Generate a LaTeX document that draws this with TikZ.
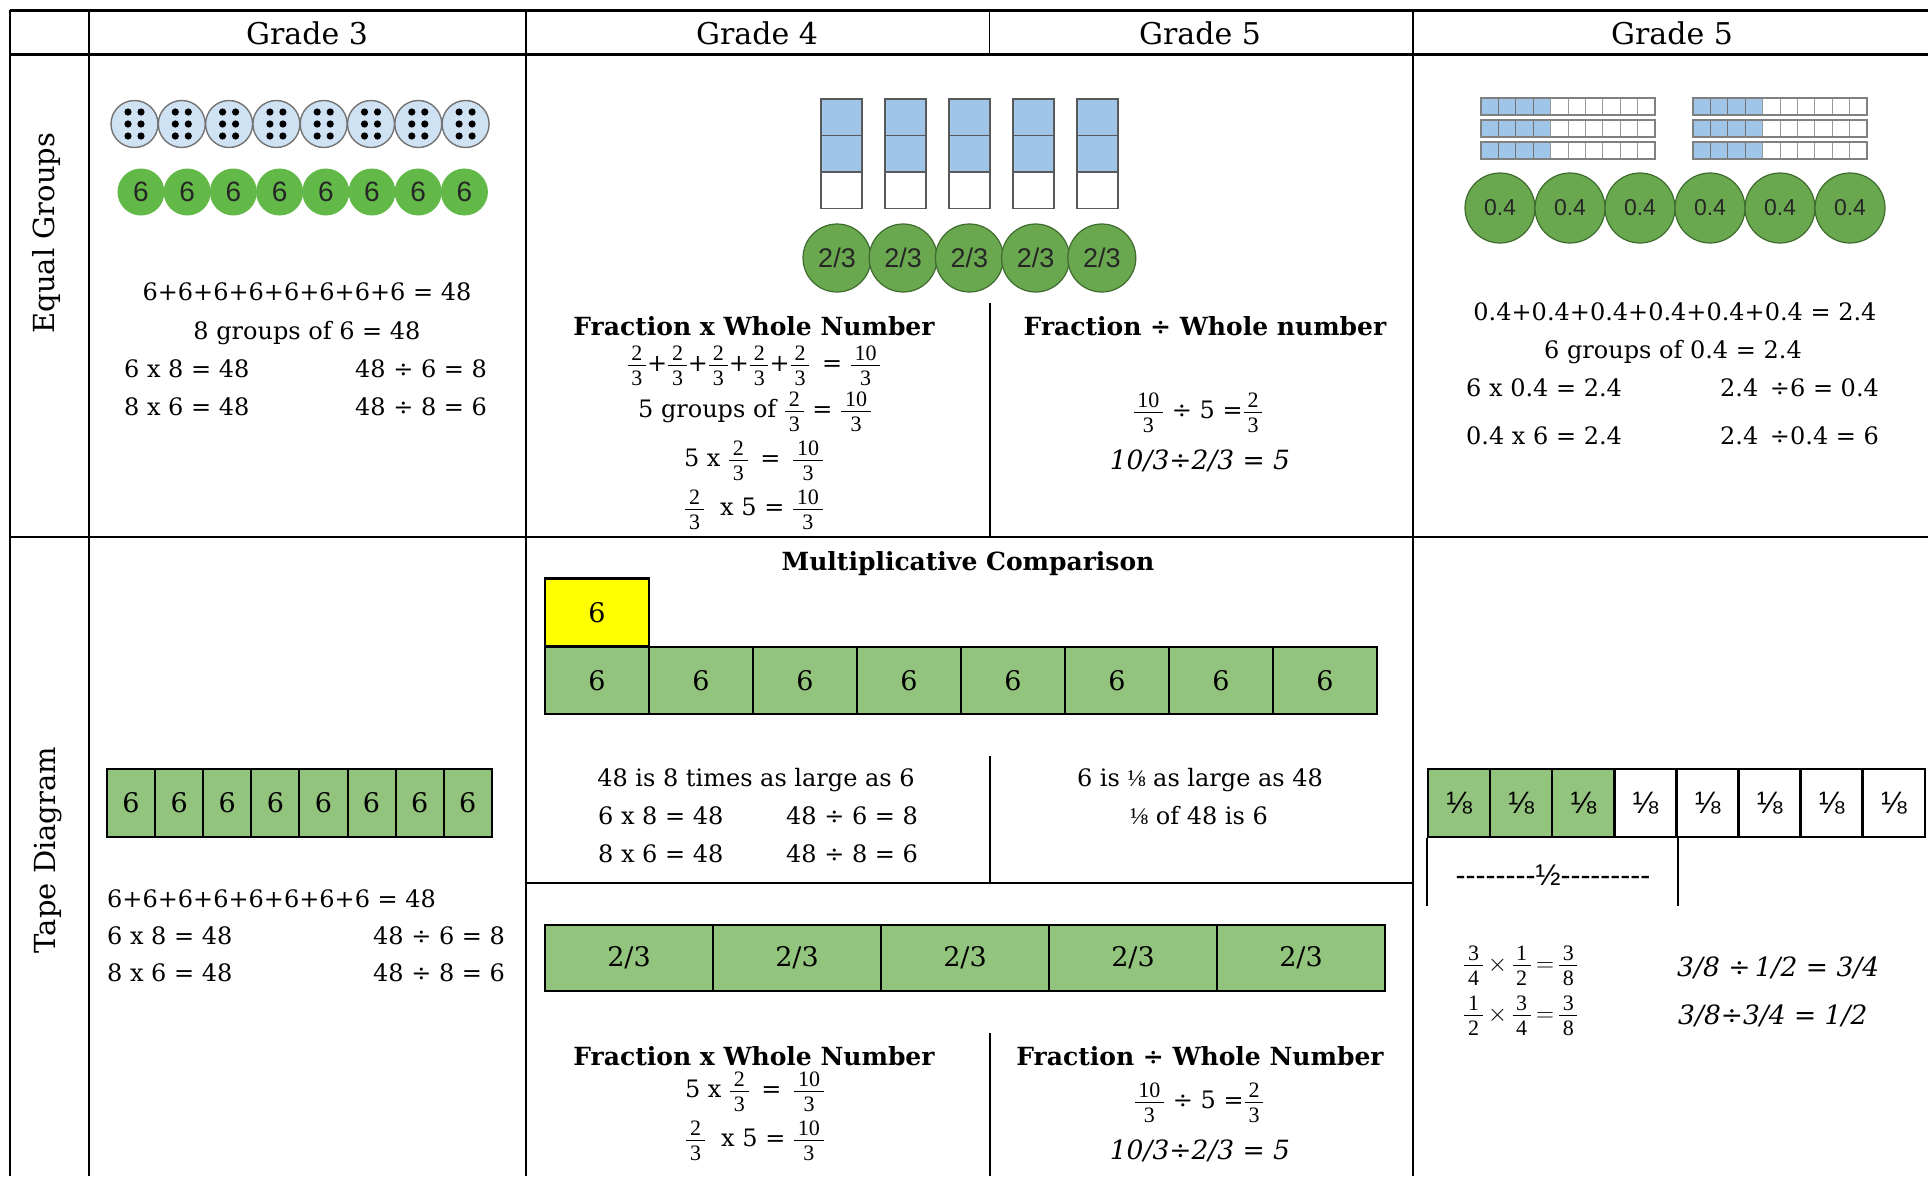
\documentclass[tikz,border=0pt]{standalone}
\usepackage{amsmath}
\usepackage{fontspec}
\setmainfont{DejaVu Serif}
\newfontfamily\sansf{Liberation Sans}
\newfontfamily\lserif{Liberation Serif}
\newfontfamily\dashfont[Ligatures=TeXOff]{Liberation Sans}
\usetikzlibrary{shapes.geometric}
\definecolor{tapegreen}{HTML}{93C47D}
\definecolor{circgreen}{HTML}{6AA84F}
\definecolor{brightgreen}{HTML}{62B948}
\definecolor{lblue}{HTML}{9FC5E8}
\definecolor{dicefill}{HTML}{CFE2F3}
\definecolor{darkgreen}{HTML}{3E6B2E}
\definecolor{yel}{HTML}{FFFF00}
\newcommand\fr[2]{\ensuremath{\genfrac{}{}{1.5pt}{1}{\hbox{\lserif\fontsize{22}{24}\selectfont\,#1\,\rule[-2.5pt]{0pt}{2.5pt}}}{\hbox{\lserif\fontsize{22}{24}\selectfont\,#2\,\rule{0pt}{17.5pt}}}}}
\begin{document}
\begin{tikzpicture}[x=1pt,y=-1pt,
  body/.style={font=\fontsize{24}{28}\selectfont, inner sep=0pt},
  bodyb/.style={font=\fontsize{25}{29}\selectfont\bfseries, inner sep=0pt},
  ital/.style={font=\fontsize{26.5}{30}\selectfont\itshape, inner sep=0pt},
  hdr/.style={font=\fontsize{30}{34}\selectfont, inner sep=0pt},
  sidelab/.style={font=\fontsize{29}{33}\selectfont, inner sep=0pt, rotate=90},
  dice/.style={draw=black!55, line width=1.4pt, fill=dicefill, ellipse, minimum width=47, minimum height=47, inner sep=0pt},
  gcirc/.style={fill=brightgreen, ellipse, minimum width=47, minimum height=47, inner sep=0pt, font=\sansf\fontsize{28}{30}\selectfont, text=black!85},
  fcirc/.style={draw=darkgreen, line width=1.2pt, fill=circgreen, circle, minimum size=#1, inner sep=0pt, text=black!85},
  bcell/.style={draw=black!65, line width=1.5pt, minimum width=41, minimum height=36.5, inner sep=0pt},
  dcell/.style={draw=black!40, line width=1pt, minimum width=17.4, minimum height=17, inner sep=0pt},
  tcell/.style={draw=black, line width=2pt, fill=tapegreen, minimum height=68, inner sep=0pt, font=\fontsize{27}{30}\selectfont},
  gridthick/.style={line width=3pt},
  gridmid/.style={line width=2pt},
  gridthin/.style={line width=1.5pt}
]
\useasboundingbox (0,0) rectangle (1928,1176);
\fill[white] (0,0) rectangle (1928,1176);

% ---------- grid ----------
\draw[gridthick] (10,10) -- (1928,10);
\draw[gridthick] (10,54) -- (1928,54);
\draw[gridmid] (10,537) -- (1928,537);
\draw[gridmid] (10,10) -- (10,1176);
\draw[gridthin] (89,10) -- (89,1176);
\draw[gridthin] (526,10) -- (526,1176);
\draw[line width=1pt] (989,10) -- (989,54);
\draw[gridthin] (1413,10) -- (1413,1176);
\draw[gridmid] (990,303) -- (990,537);
\draw[gridthin] (990,756) -- (990,883);
\draw[gridthin] (526,883) -- (1413,883);
\draw[gridthin] (990,1033) -- (990,1176);

% ---------- headers ----------
\node[hdr] (h1) at (307,33) {Grade 3};
\node[hdr] (h2) at (757,33) {Grade 4};
\node[hdr] (h3) at (1200,33) {Grade 5};
\node[hdr] (h4) at (1672,33) {Grade 5};
\node[sidelab] (lab1) at (46,233) {Equal Groups};
\node[sidelab] (lab2) at (48,850) {Tape Diagram};

% ---------- Grade 3, equal groups ----------
\foreach \i in {0,...,7}{
  \node[dice] (d\i) at ({134.5+47.3*\i},124) {};
  \foreach \dx in {-6.5,6.5}{
    \foreach \dy in {-12,0,12}{
      \fill ({134.5+47.3*\i+\dx},{124+\dy}) circle (3.6);
    }
  }
}
\foreach \i in {0,...,7}{
  \node[gcirc] (gc\i) at ({141+46.2*\i},192) {6};
}
\node[body, anchor=base] (g3a) at (307,300) {6+6+6+6+6+6+6+6 = 48};
\node[body, anchor=base] (g3b) at (307,339) {8 groups of 6 = 48};
\node[body, anchor=base west] (g3c) at (124,377) {6 x 8 = 48};
\node[body, anchor=base west] (g3d) at (355,377) {48 ÷ 6 = 8};
\node[body, anchor=base west] (g3e) at (124,415) {8 x 6 = 48};
\node[body, anchor=base west] (g3f) at (355,415) {48 ÷ 8 = 6};

% ---------- Grade 4, equal groups ----------
\foreach \i in {0,...,4}{
  \node[bcell, fill=lblue] (ba\i) at ({841.5+64*\i},117.25) {};
  \node[bcell, fill=lblue] (bb\i) at ({841.5+64*\i},153.75) {};
  \node[bcell, fill=white] (bc\i) at ({841.5+64*\i},190.25) {};
}
\foreach \i in {0,...,4}{
  \node[fcirc=68, font=\sansf\fontsize{27}{30}\selectfont] (fc\i) at ({837+66.2*\i},258) {2/3};
}
\node[bodyb, anchor=base] (fw1) at (754,335) {Fraction x Whole Number};
\node[body] (fw1a) at (754,366) {\fr23+\fr23+\fr23+\fr23+\fr23\ \,=\ \fr{10}{3}};
\node[body] (fw1b) at (755,412) {5 groups of \fr23 =\ \fr{10}{3}};
\node[body] (fw1c) at (754,461) {5 x \fr23\ \,=\ \,\fr{10}{3}};
\node[body] (fw1d) at (754,510) {\fr23\ \ x 5 =\ \fr{10}{3}};

% ---------- Grade 5, equal groups (middle) ----------
\node[bodyb, anchor=base] (fd1) at (1205,335) {Fraction ÷ Whole number};
\node[body] (fd1a) at (1198,413) {\fr{10}{3}\ ÷\ 5 =\fr23};
\node[ital, anchor=base] (fd1b) at (1200,469) {10/3÷2/3 = 5};

% ---------- Grade 5, equal groups (right) ----------
\foreach \g in {0,1}{
  \foreach \r/\yy in {0/106.5,1/128.5,2/150.5}{
    \foreach \c in {0,...,9}{
      \pgfmathsetmacro{\xx}{1481+212*\g+17.4*\c+8.7}
      \ifnum\c<4
        \node[dcell, fill=lblue, draw=black!55] (dc\g\r\c) at (\xx,\yy) {};
      \else
        \node[dcell, fill=white] (dc\g\r\c) at (\xx,\yy) {};
      \fi
    }
    \draw[black!50, line width=1.4pt] ({1481+212*\g},{\yy-8.5}) rectangle ({1655+212*\g},{\yy+8.5});
  }
}
\foreach \i in {0,...,5}{
  \node[fcirc=70, font=\sansf\fontsize{23}{26}\selectfont] (dcc\i) at ({1500+70*\i},208) {0.4};
}
\node[body, anchor=base] (r1a) at (1675,320) {0.4+0.4+0.4+0.4+0.4+0.4 = 2.4};
\node[body, anchor=base] (r1b) at (1673,358) {6 groups of 0.4 = 2.4};
\node[body, anchor=base west] (r1c) at (1466,396) {6 x 0.4 = 2.4};
\node[body, anchor=base west] (r1d) at (1720,396) {2.4 \,÷6 = 0.4};
\node[body, anchor=base west] (r1e) at (1466,444) {0.4 x 6 = 2.4};
\node[body, anchor=base west] (r1f) at (1720,444) {2.4 \,÷0.4 = 6};

% ---------- Grade 3, tape ----------
\foreach \i in {0,...,7}{
  \node[tcell, minimum width=48.1] (t3\i) at ({131.05+48.1*\i},803) {6};
}
\node[body, anchor=base west] (t3a) at (107,907) {6+6+6+6+6+6+6+6 = 48};
\node[body, anchor=base west] (t3b) at (107,944) {6 x 8 = 48};
\node[body, anchor=base west] (t3c) at (373,944) {48 ÷ 6 = 8};
\node[body, anchor=base west] (t3d) at (107,981) {8 x 6 = 48};
\node[body, anchor=base west] (t3e) at (373,981) {48 ÷ 8 = 6};

% ---------- Multiplicative comparison ----------
\node[bodyb, anchor=base] (mc) at (968,570) {Multiplicative Comparison};
\node[tcell, fill=yel, minimum width=104, minimum height=68, line width=2.5pt] (my) at (597,612.5) {6};
\foreach \i in {0,...,7}{
  \node[tcell, minimum width=104, minimum height=67, line width=2.5pt] (mg\i) at ({597+104*\i},680.5) {6};
}
\node[body, anchor=base] (mca) at (756,786) {48 is 8 times as large as 6};
\node[body, anchor=base west] (mcb) at (598,824) {6 x 8 = 48};
\node[body, anchor=base west] (mcc) at (786,824) {48 ÷ 6 = 8};
\node[body, anchor=base west] (mcd) at (598,862) {8 x 6 = 48};
\node[body, anchor=base west] (mce) at (786,862) {48 ÷ 8 = 6};
\node[body, anchor=base] (mcf) at (1200,786) {6 is {\lserif ⅛} as large as 48};
\node[body, anchor=base] (mcg) at (1199,824) {{\lserif ⅛} of 48 is 6};

% ---------- 2/3 tape ----------
\foreach \i in {0,...,4}{
  \node[tcell, minimum width=168, minimum height=66] (ft\i) at ({629+168*\i},958) {2/3};
}
\node[bodyb, anchor=base] (fw2) at (754,1065) {Fraction x Whole Number};
\node[body] (fw2a) at (755,1092) {5 x \fr23\ \,=\ \,\fr{10}{3}};
\node[body] (fw2b) at (755,1141) {\fr23\ \ x 5 =\ \fr{10}{3}};
\node[bodyb, anchor=base] (fd2) at (1200,1065) {Fraction ÷ Whole Number};
\node[body] (fd2a) at (1199,1103) {\fr{10}{3}\ ÷\ 5 =\fr23};
\node[ital, anchor=base] (fd2b) at (1200,1159) {10/3÷2/3 = 5};

% ---------- eighths tape ----------
\foreach \i in {0,...,7}{
  \ifnum\i<3
    \node[tcell, minimum width=62.1, line width=2.5pt, font=\sansf\fontsize{31}{34}\selectfont] (e\i) at ({1459.05+62.1*\i},803) {⅛};
  \else
    \node[tcell, fill=white, minimum width=62.1, line width=2.5pt, font=\sansf\fontsize{31}{34}\selectfont] (e\i) at ({1459.05+62.1*\i},803) {⅛};
  \fi
}
\draw[line width=2pt] (e0.south west) -- ++(0,68);
\draw[line width=2pt] (e3.south east) -- ++(0,68);
\node[inner sep=0pt, font=\dashfont\fontsize{30}{34}\selectfont] (half) at (1553,875) {--------½---------};
\node[body, anchor=west] (q1) at (1463,966) {\fr34\,$\times$\,\fr12\,$=$\,\fr38};
\node[body, anchor=west] (q2) at (1463,1016) {\fr12\,$\times$\,\fr34\,$=$\,\fr38};
\node[ital, anchor=base west] (q3) at (1677,976) {3/8 ÷\,1/2 = 3/4};
\node[ital, anchor=base west] (q4) at (1678,1024) {3/8÷3/4 = 1/2};
\end{tikzpicture}
\end{document}
